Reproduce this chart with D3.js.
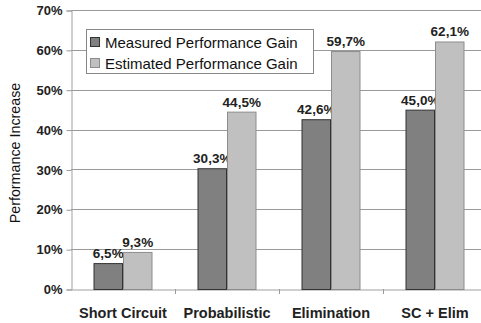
<!DOCTYPE html>
<html>
<head>
<meta charset="utf-8">
<script src="https://cdn.jsdelivr.net/npm/d3@7"></script>
<style>
  html, body { margin: 0; padding: 0; background: #fff; }
  svg { display: block; font-family: Arial, "Liberation Sans", sans-serif; }
</style>
</head>
<body>
<svg id="chart" width="481" height="323"></svg>
<script>
// Performance gain per optimisation technique
const categories = ["Short Circuit", "Probabilistic", "Elimination", "SC + Elim"];
const seriesNames = ["Measured Performance Gain", "Estimated Performance Gain"];
const measured = [6.5, 30.3, 42.6, 45.0];
const estimated = [9.3, 44.5, 59.7, 62.1];
const yTicks = [0, 10, 20, 30, 40, 50, 60, 70];
const colors = ["#808080", "#c0c0c0"];
const strokes = ["#333333", "#8c8c8c"];

const svg = d3.select("#chart");
const plotLeft = 71, plotRight = 487, plotTop = 10, plotBottom = 289;

const x = d3.scaleBand().domain(categories).range([plotLeft, plotRight]).paddingInner(0).paddingOuter(0);
const inner = d3.scaleBand().domain([0, 1]).range([0, 59]);
const y = d3.scaleLinear().domain([0, 70]).range([plotBottom, plotTop]);

const fmt = v => d3.format(".1f")(v).replace(".", ",") + "%";

// horizontal gridlines
svg.append("g").selectAll("line").data(yTicks.filter(t => t > 0)).join("line")
  .attr("x1", plotLeft).attr("x2", 481)
  .attr("y1", d => Math.round(y(d)) + 0.5).attr("y2", d => Math.round(y(d)) + 0.5)
  .attr("stroke", "#9a9a9a").attr("stroke-width", 1);

// y axis
const yAxis = d3.axisLeft(y).tickValues(yTicks).tickSize(5).tickPadding(4).tickFormat(d => d + "%");
const gy = svg.append("g").attr("transform", `translate(${plotLeft + 0.5},0.5)`).call(yAxis);
gy.select(".domain").attr("stroke", "#a0a0a0");
gy.selectAll(".tick line").attr("stroke", "#9a9a9a");
gy.selectAll(".tick text").attr("font-size", 13).attr("font-weight", "bold").attr("fill", "#222");

// x axis
const xAxis = d3.axisBottom(x).tickSize(0).tickPadding(18);
const gx = svg.append("g").attr("transform", `translate(0,${plotBottom + 0.5})`).call(xAxis);
gx.select(".domain").attr("stroke", "#a0a0a0");
gx.selectAll(".tick text").attr("font-size", 14.5).attr("font-weight", "bold").attr("fill", "#222");
// category separator ticks
svg.append("g").selectAll("line").data(categories.slice(1)).join("line")
  .attr("x1", d => Math.round(x(d)) + 0.5).attr("x2", d => Math.round(x(d)) + 0.5)
  .attr("y1", plotBottom).attr("y2", plotBottom + 5)
  .attr("stroke", "#9a9a9a");

// bars
const series = [measured, estimated];
series.forEach((vals, s) => {
  const g = svg.append("g");
  const data = categories.map((c, i) => ({ c, v: vals[i] }));
  g.selectAll("rect").data(data).join("rect")
    .attr("x", d => x(d.c) + (x.bandwidth() - 59) / 2 + inner(s) + 0.5)
    .attr("width", inner.bandwidth() - 1)
    .attr("y", d => y(d.v) + 0.5)
    .attr("height", d => y(0) - y(d.v))
    .attr("fill", colors[s])
    .attr("stroke", strokes[s]).attr("stroke-width", 1);
  g.selectAll("text").data(data).join("text")
    .attr("x", d => x(d.c) + (x.bandwidth() - 59) / 2 + inner(s) + inner.bandwidth() / 2)
    .attr("y", d => y(d.v) - 5)
    .attr("text-anchor", "middle")
    .attr("font-size", 13.5).attr("font-weight", "bold").attr("fill", "#222")
    .text(d => fmt(d.v));
});

// y label
svg.append("text")
  .attr("transform", "translate(20,153) rotate(-90)")
  .attr("text-anchor", "middle")
  .attr("font-size", 14.3).attr("fill", "#111")
  .text("Performance Increase");

// legend
const lg = svg.append("g");
lg.append("rect").attr("x", 86.5).attr("y", 29.5).attr("width", 227).attr("height", 44)
  .attr("fill", "#fff").attr("stroke", "#888");
seriesNames.forEach((n, i) => {
  lg.append("rect").attr("x", 90.5).attr("y", 37.5 + i * 21).attr("width", 9).attr("height", 9)
    .attr("fill", colors[i]).attr("stroke", strokes[i]);
  lg.append("text").attr("x", 105).attr("y", 47.5 + i * 21)
    .attr("font-size", 15).attr("fill", "#111").text(n);
});
</script>
</body>
</html>
